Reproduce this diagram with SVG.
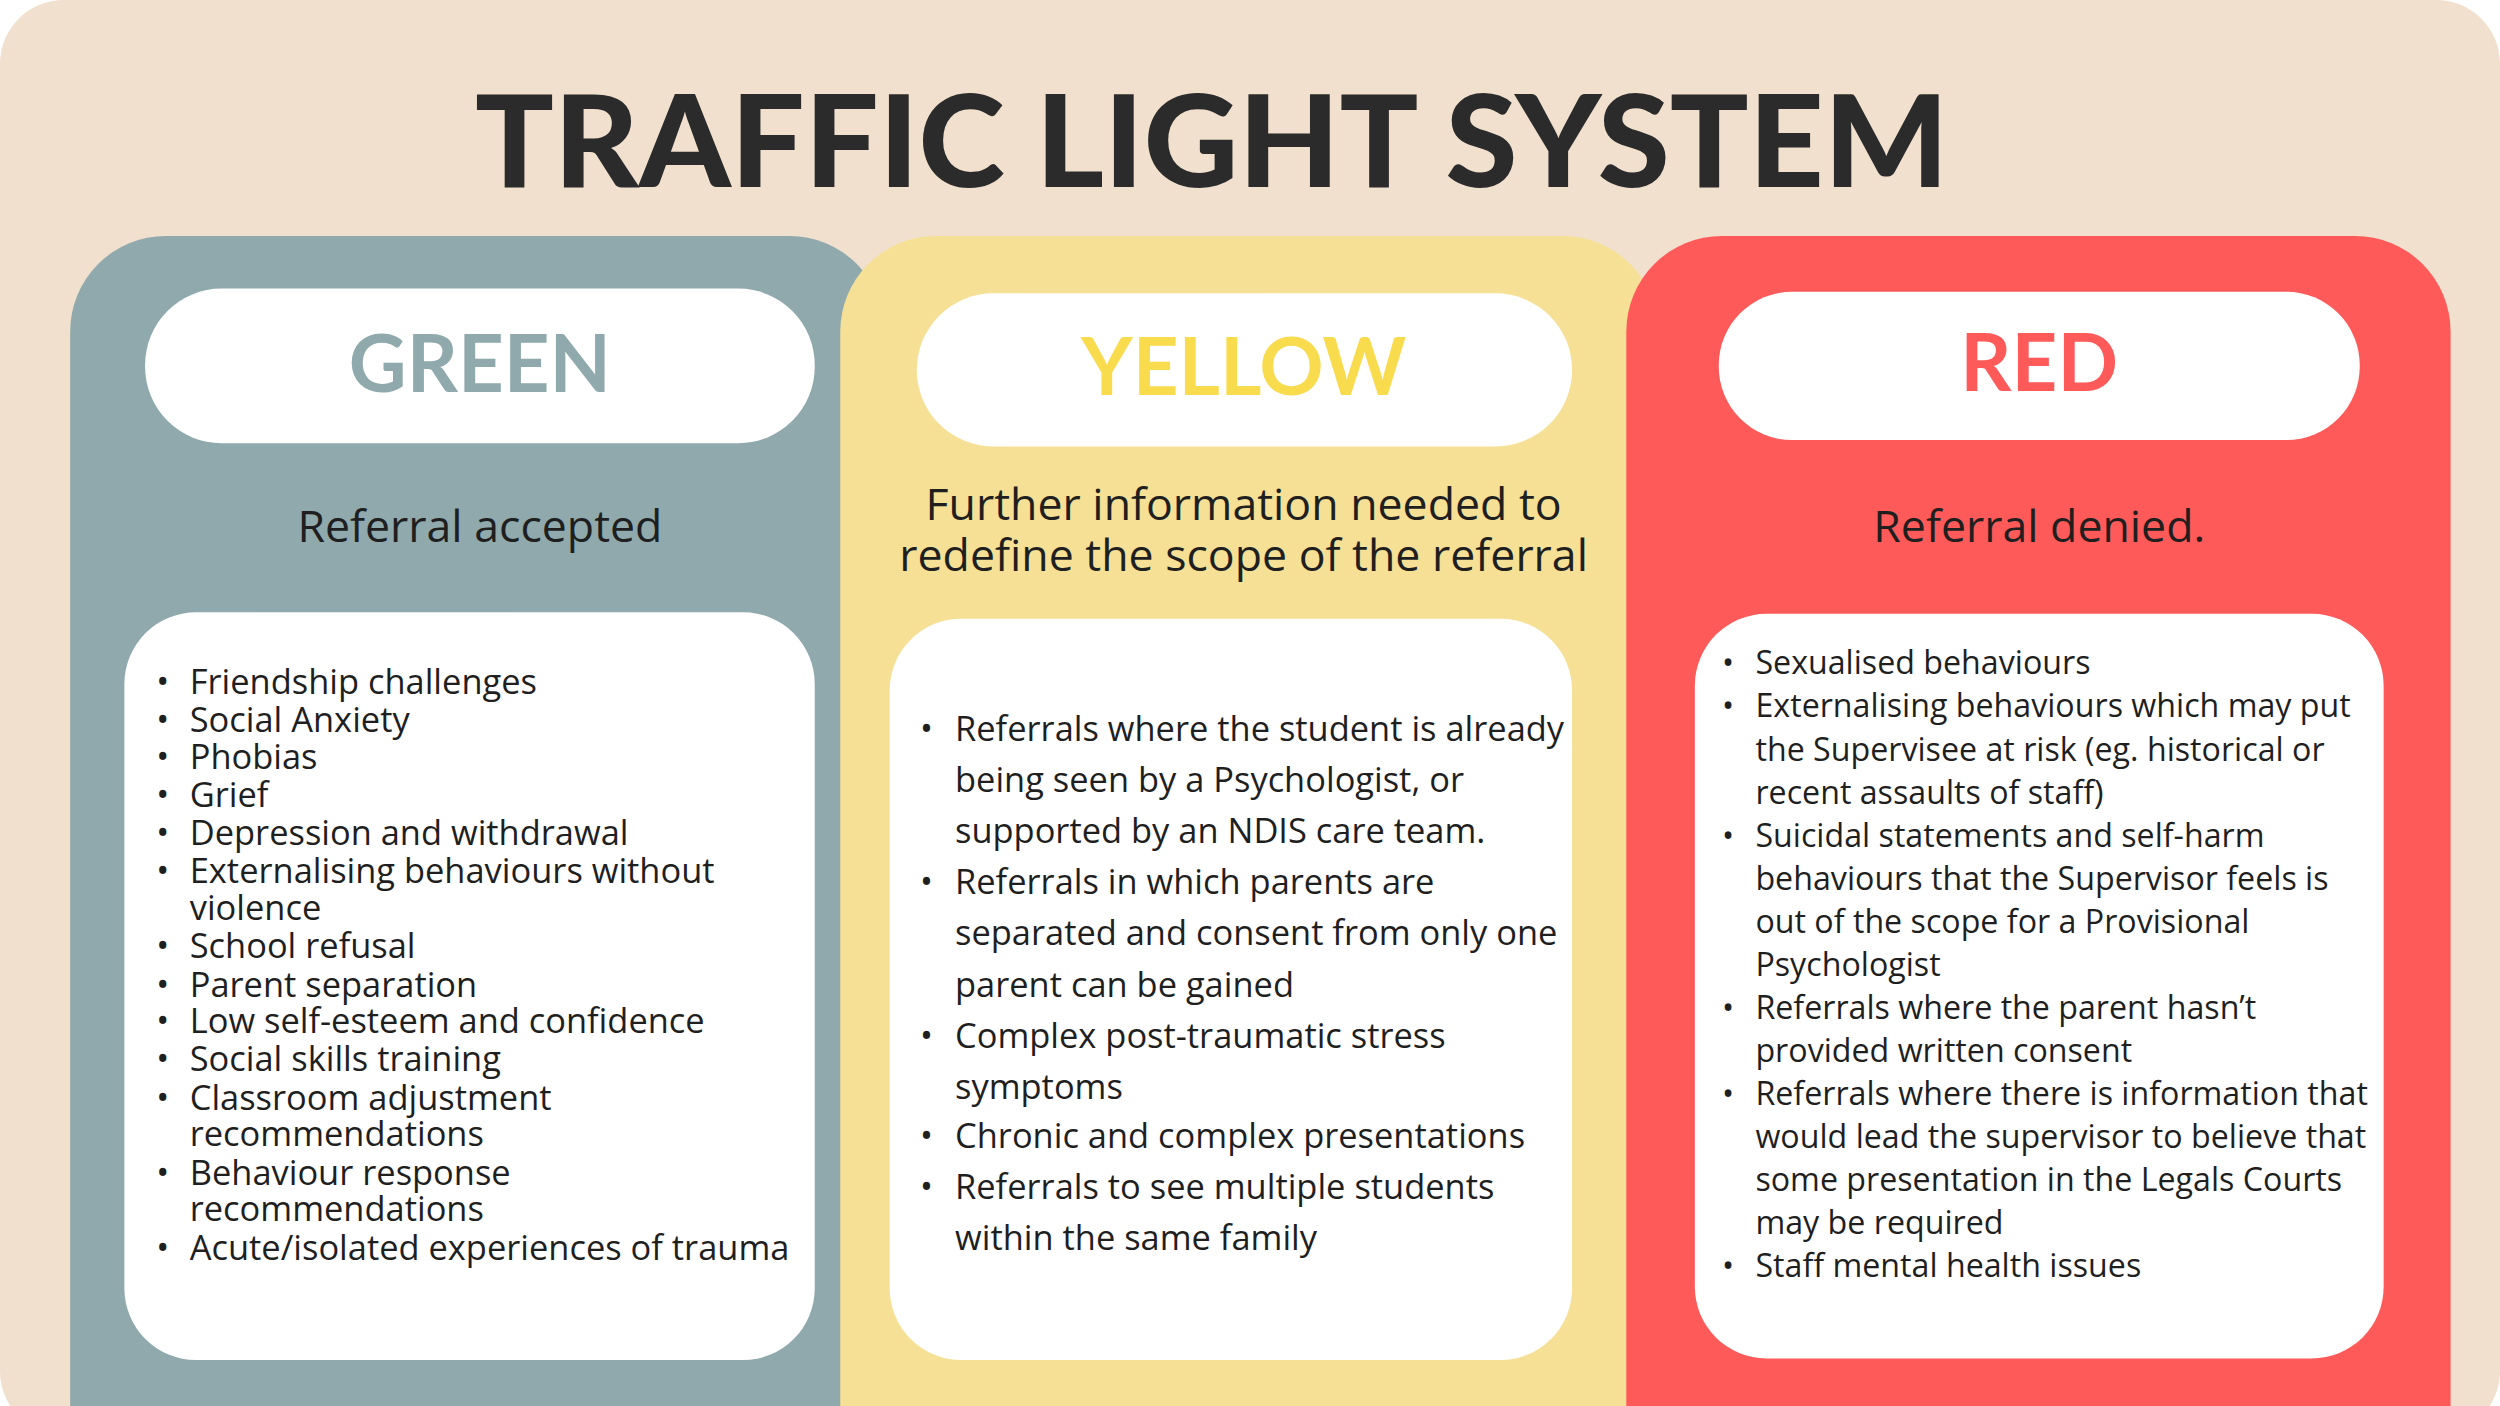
<svg xmlns="http://www.w3.org/2000/svg" width="2500" height="1406" viewBox="0 0 2500 1406">
<style>
.t{font-family:"Open Sans","Liberation Sans",sans-serif;fill:#1f1f1f}
.li{font-size:21.6px}
.sub{font-size:28px;text-anchor:middle}
.hd{font-family:"Lato","Liberation Sans",sans-serif;font-weight:700;font-size:50px;text-anchor:middle}
</style>
<rect width="2500" height="1406" fill="#ffffff"/>
<g transform="scale(1.5944)">
<rect x="0" y="0" width="1568" height="900" rx="40" fill="#F1E0CE"/>
<text x="760" y="117" font-family="Lato,'Liberation Sans',sans-serif" font-weight="900" font-size="80" fill="#2b2b2b" text-anchor="middle" textLength="924" lengthAdjust="spacingAndGlyphs">TRAFFIC LIGHT SYSTEM</text>
<g id="green">
<rect x="44" y="148" width="511" height="800" rx="60" fill="#8FA9AD"/>
<rect x="91" y="181" width="420" height="97" rx="48" fill="#fff"/>
<text class="hd" x="301" y="246" fill="#8FA9AD">GREEN</text>
<text class="t sub" x="301" y="340">Referral accepted</text>
<rect x="78" y="384" width="433" height="469" rx="45" fill="#fff"/>
<g class="t li">
<text x="98" y="435">•</text><text x="119" y="435">Friendship challenges</text>
<text x="98" y="459">•</text><text x="119" y="459">Social Anxiety</text>
<text x="98" y="482">•</text><text x="119" y="482">Phobias</text>
<text x="98" y="506">•</text><text x="119" y="506">Grief</text>
<text x="98" y="530">•</text><text x="119" y="530">Depression and withdrawal</text>
<text x="98" y="554">•</text><text x="119" y="554">Externalising behaviours without</text>
<text x="119" y="577">violence</text>
<text x="98" y="601">•</text><text x="119" y="601">School refusal</text>
<text x="98" y="625">•</text><text x="119" y="625">Parent separation</text>
<text x="98" y="648">•</text><text x="119" y="648">Low self-esteem and confidence</text>
<text x="98" y="672">•</text><text x="119" y="672">Social skills training</text>
<text x="98" y="696">•</text><text x="119" y="696">Classroom adjustment</text>
<text x="119" y="719">recommendations</text>
<text x="98" y="743">•</text><text x="119" y="743">Behaviour response</text>
<text x="119" y="766">recommendations</text>
<text x="98" y="790">•</text><text x="119" y="790">Acute/isolated experiences of trauma</text>
</g>
</g>
<g id="yellow">
<rect x="527" y="148" width="513" height="800" rx="60" fill="#F5E095"/>
<rect x="575" y="184" width="411" height="96" rx="48" fill="#fff"/>
<text class="hd" x="780" y="248" fill="#F9DB4E">YELLOW</text>
<text class="t sub" x="780" y="326">Further information needed to</text>
<text class="t sub" x="780" y="358">redefine the scope of the referral</text>
<rect x="558" y="388" width="428" height="465" rx="45" fill="#fff"/>
<g class="t li">
<text x="577" y="465">•</text><text x="599" y="465">Referrals where the student is already</text>
<text x="599" y="497">being seen by a Psychologist, or</text>
<text x="599" y="529">supported by an NDIS care team.</text>
<text x="577" y="561">•</text><text x="599" y="561">Referrals in which parents are</text>
<text x="599" y="593">separated and consent from only one</text>
<text x="599" y="625">parent can be gained</text>
<text x="577" y="657">•</text><text x="599" y="657">Complex post-traumatic stress</text>
<text x="599" y="689">symptoms</text>
<text x="577" y="720">•</text><text x="599" y="720">Chronic and complex presentations</text>
<text x="577" y="752">•</text><text x="599" y="752">Referrals to see multiple students</text>
<text x="599" y="784">within the same family</text>
</g>
</g>
<g id="red">
<rect x="1020" y="148" width="517" height="800" rx="60" fill="#FF5A5A"/>
<rect x="1078" y="183" width="402" height="93" rx="46" fill="#fff"/>
<text class="hd" x="1279" y="245" fill="#FF5A5A">RED</text>
<text class="t sub" x="1279" y="340">Referral denied.</text>
<rect x="1063" y="385" width="432" height="467" rx="45" fill="#fff"/>
<g class="t" font-size="20.2">
<text x="1080" y="423">•</text><text x="1101" y="423">Sexualised behaviours</text>
<text x="1080" y="450">•</text><text x="1101" y="450">Externalising behaviours which may put</text>
<text x="1101" y="477">the Supervisee at risk (eg. historical or</text>
<text x="1101" y="504">recent assaults of staff)</text>
<text x="1080" y="531">•</text><text x="1101" y="531">Suicidal statements and self-harm</text>
<text x="1101" y="558">behaviours that the Supervisor feels is</text>
<text x="1101" y="585">out of the scope for a Provisional</text>
<text x="1101" y="612">Psychologist</text>
<text x="1080" y="639">•</text><text x="1101" y="639">Referrals where the parent hasn’t</text>
<text x="1101" y="666">provided written consent</text>
<text x="1080" y="693">•</text><text x="1101" y="693">Referrals where there is information that</text>
<text x="1101" y="720">would lead the supervisor to believe that</text>
<text x="1101" y="747">some presentation in the Legals Courts</text>
<text x="1101" y="774">may be required</text>
<text x="1080" y="801">•</text><text x="1101" y="801">Staff mental health issues</text>
</g>
</g>
</g>
</svg>
